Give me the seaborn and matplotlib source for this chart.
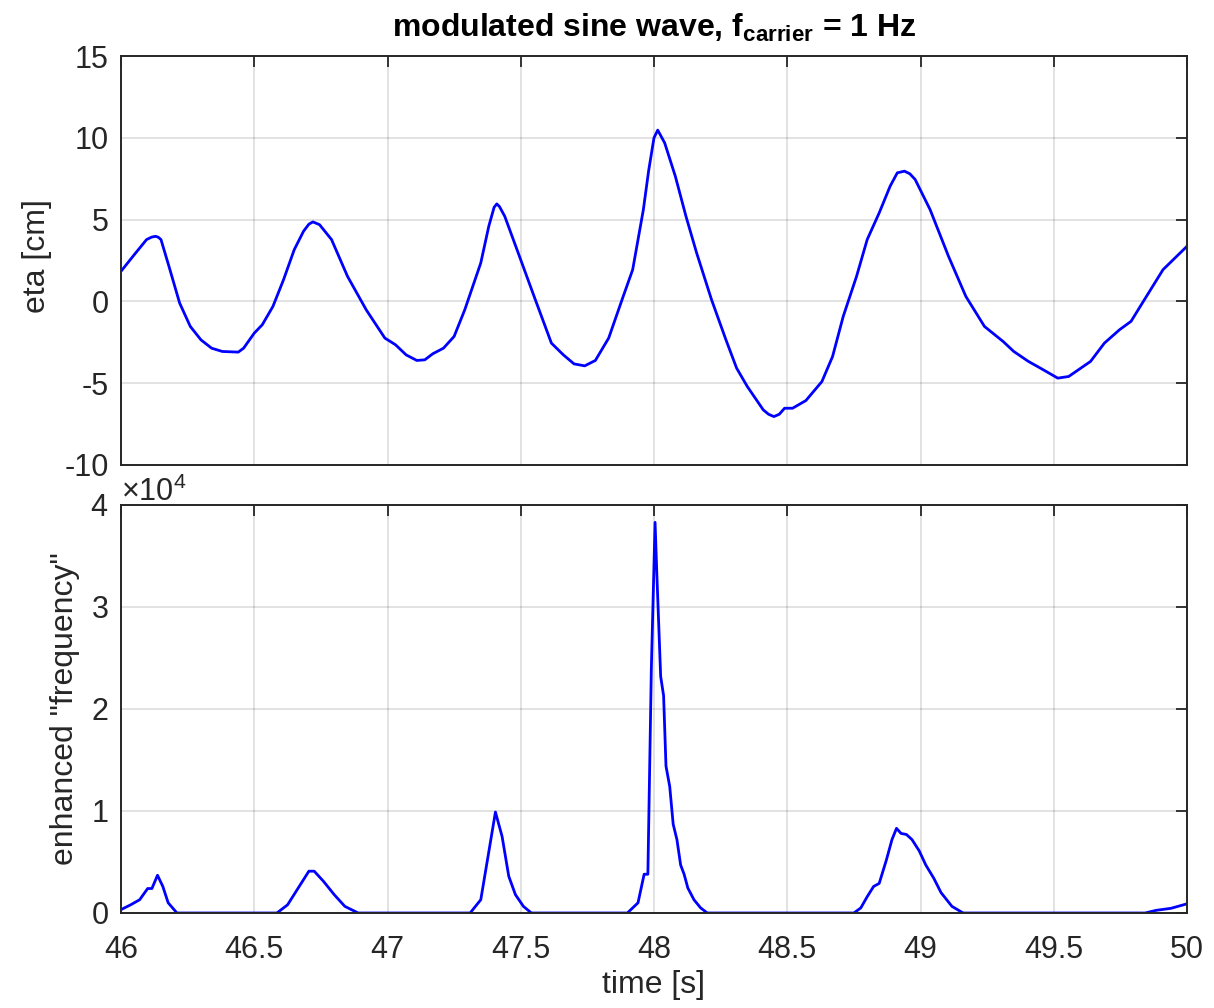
import numpy as np
import pandas as pd
import matplotlib
matplotlib.use("Agg")
import matplotlib.pyplot as plt
import seaborn as sns

# ---- data ----
eta_t = [46.00, 46.05, 46.096, 46.115, 46.13, 46.14, 46.15, 46.18, 46.22, 46.26, 46.30, 46.34,
         46.38, 46.44, 46.46, 46.50, 46.53, 46.57, 46.61, 46.65, 46.685, 46.705, 46.72,
         46.745, 46.79, 46.85, 46.92, 46.99, 47.03, 47.07, 47.11, 47.14, 47.17,
         47.21, 47.25, 47.29, 47.35, 47.38, 47.40, 47.41, 47.42, 47.44, 47.495, 47.55, 47.615,
         47.66, 47.70, 47.74, 47.78, 47.83, 47.88, 47.92, 47.96, 47.98, 48.00,
         48.014, 48.04, 48.08, 48.12, 48.16, 48.216, 48.27, 48.31, 48.35, 48.41,
         48.43, 48.45, 48.47, 48.49, 48.52, 48.57, 48.63, 48.67, 48.71, 48.76, 48.80, 48.845,
         48.886, 48.913, 48.94, 48.96, 48.98, 49.036, 49.105, 49.17, 49.24, 49.31, 49.35,
         49.405, 49.45, 49.515, 49.556, 49.638, 49.69, 49.747, 49.79, 49.84, 49.91,
         50.00]
eta_cm = [1.84, 2.86, 3.78, 3.93, 3.98, 3.92, 3.78, 2.14, -0.10, -1.53, -2.35, -2.86,
          -3.06, -3.10, -2.86, -1.94, -1.43, -0.31, 1.33, 3.16, 4.29, 4.72, 4.86,
          4.69, 3.78, 1.53, -0.51, -2.24, -2.65, -3.27, -3.61, -3.57, -3.20,
          -2.86, -2.14, -0.51, 2.35, 4.59, 5.75, 5.96, 5.80, 5.20, 2.76, 0.31, -2.55,
          -3.27, -3.82, -3.94, -3.61, -2.24, 0.10, 1.94, 5.60, 8.00, 10.00,
          10.47, 9.69, 7.65, 5.20, 2.96, 0.10, -2.35, -4.08, -5.20, -6.63,
          -6.90, -7.04, -6.90, -6.53, -6.53, -6.06, -4.90, -3.37, -0.92, 1.53, 3.78, 5.41,
          7.04, 7.86, 7.96, 7.80, 7.45, 5.61, 2.76, 0.31, -1.53, -2.45, -3.06,
          -3.67, -4.08, -4.69, -4.59, -3.67, -2.55, -1.73, -1.22, 0.10, 1.94,
          3.37]

freq_t = [46.00, 46.036, 46.07, 46.10, 46.116, 46.137, 46.157, 46.177, 46.21,
          46.585, 46.625, 46.665, 46.705, 46.725, 46.76, 46.80, 46.84, 46.89,
          47.31, 47.35, 47.375, 47.405, 47.43, 47.455, 47.48, 47.51, 47.54,
          47.90, 47.94, 47.963, 47.977, 47.99, 48.004, 48.01, 48.025, 48.036,
          48.045, 48.059, 48.072, 48.086, 48.10, 48.113, 48.127, 48.15, 48.175,
          48.20, 48.75, 48.776, 48.80, 48.824, 48.845, 48.872, 48.893, 48.91,
          48.927, 48.947, 48.968, 48.995, 49.02, 49.05, 49.077, 49.118, 49.16,
          49.843, 49.884, 49.94, 50.00]
freq_val = [330, 800, 1300, 2400, 2400, 3700, 2600, 1000, 0,
            0, 800, 2450, 4100, 4100, 3100, 1800, 650, 0,
            0, 1300, 5200, 9900, 7500, 3600, 1800, 650, 0,
            0, 1000, 3800, 3800, 23900, 38300, 33700, 23200, 21300,
            14400, 12400, 8700, 7200, 4700, 3800, 2450, 1300, 500,
            0, 0, 500, 1600, 2600, 2900, 5200, 7200, 8300,
            7800, 7700, 7200, 6100, 4700, 3400, 2000, 650, 0,
            0, 260, 460, 900]

eta_df = pd.DataFrame({"t": eta_t, "eta": eta_cm})
freq_df = pd.DataFrame({"t": freq_t, "f": freq_val})

# ---- style ----
sns.set_style("white")
plt.rcParams["font.family"] = ["Liberation Sans", "DejaVu Sans"]
plt.rcParams["mathtext.fontset"] = "custom"
plt.rcParams["mathtext.rm"] = "Liberation Sans"
plt.rcParams["mathtext.bf"] = "Liberation Sans:bold"
plt.rcParams["mathtext.it"] = "Liberation Sans:italic"
plt.rcParams["axes.unicode_minus"] = False

FS = 22
FL = 23
FT = 23
dark = (0.15, 0.15, 0.15)
line_color = (0, 0, 1)

fig = plt.figure(figsize=(12.14, 10.08), dpi=100)
ax1 = fig.add_axes([121 / 1214, 1 - 465 / 1008, (1187 - 121) / 1214, (465 - 56) / 1008])
ax2 = fig.add_axes([121 / 1214, 1 - 913 / 1008, (1187 - 121) / 1214, (913 - 505) / 1008])

sns.lineplot(data=eta_df, x="t", y="eta", ax=ax1, color=line_color, lw=2.0, sort=False)
sns.lineplot(data=freq_df, x="t", y="f", ax=ax2, color=line_color, lw=2.0, sort=False)

xticks = [46, 46.5, 47, 47.5, 48, 48.5, 49, 49.5, 50]
xticklabels = ["46", "46.5", "47", "47.5", "48", "48.5", "49", "49.5", "50"]

for ax in (ax1, ax2):
    ax.set_xlim(46, 50)
    ax.set_xticks(xticks)
    ax.grid(True, color=(0.15, 0.15, 0.15), alpha=0.15, lw=1.3)
    ax.tick_params(direction="in", length=8, width=1.3, colors=dark,
                   labelsize=FS, top=True, right=True)
    ax.tick_params(axis="y", pad=9)
    ax.tick_params(axis="x", pad=16)
    for sp in ax.spines.values():
        sp.set_color(dark)
        sp.set_linewidth(1.4)
    ax.set_axisbelow(True)

ax1.set_ylim(-10, 15)
ax1.set_yticks([-10, -5, 0, 5, 10, 15])
ax1.set_xticklabels([])
ax1.set_xlabel("")
ax1.set_ylabel("eta [cm]", fontsize=FL, color=dark)
ax1.yaxis.set_label_coords(-0.0647, 0.51)
ax1.set_title(r"modulated sine wave, $\mathbf{f_{carrier}}$ = 1 Hz",
              fontsize=FT, fontweight="bold", color="black", pad=14)

ax2.set_ylim(0, 40000)
ax2.set_yticks([0, 10000, 20000, 30000, 40000])
ax2.ticklabel_format(style="sci", axis="y", scilimits=(0, 0), useMathText=True)
ax2.yaxis.get_offset_text().set_fontsize(FS)
ax2.yaxis.get_offset_text().set_color(dark)
ax2.set_xticklabels(xticklabels)
ax2.set_xlabel("time [s]", fontsize=FL, color=dark)
ax2.xaxis.set_label_coords(0.5, -0.1387)
ax2.set_ylabel('enhanced "frequency"', fontsize=FL, color=dark)
ax2.yaxis.set_label_coords(-0.0385, 0.5)

fig.savefig("out.png", dpi=100)
